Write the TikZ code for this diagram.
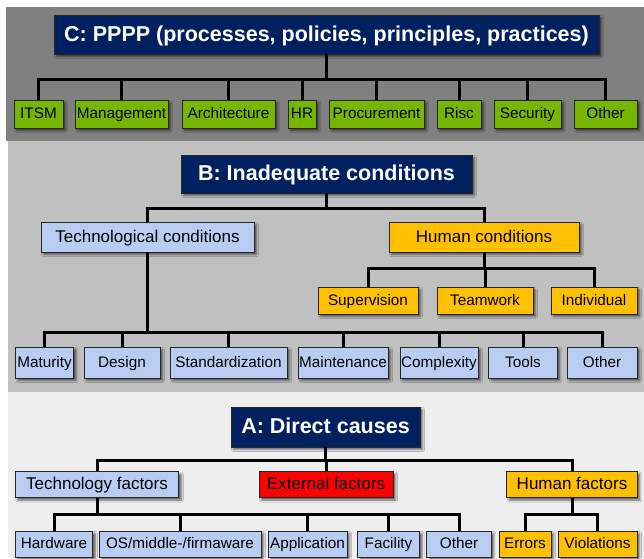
\documentclass[tikz,border=0pt]{standalone}
\usepackage{fontspec}
\setmainfont{Liberation Sans}
\usetikzlibrary{shadows.blur}

\definecolor{navy}{RGB}{0,32,96}
\definecolor{leaf}{RGB}{119,182,0}
\definecolor{sky}{RGB}{185,205,243}
\definecolor{gold}{RGB}{255,192,0}
\definecolor{alarm}{RGB}{255,0,0}
\definecolor{bandC}{RGB}{128,128,128}
\definecolor{bandB}{RGB}{192,192,192}
\definecolor{bandA}{RGB}{239,239,239}

\tikzset{
  box/.style={draw=black!85, line width=0.8pt, inner sep=0pt, align=center,
    blur shadow={shadow xshift=2.5pt, shadow yshift=-2.5pt,
                 shadow blur radius=2pt, shadow opacity=60}},
  headbox/.style={box, fill=navy, text=white,
    font=\fontsize{21.5}{24}\selectfont\bfseries,
    text height=15pt, text depth=2pt},
  midbox/.style={box, font=\fontsize{17}{20}\selectfont,
    text height=11.9pt, text depth=1.7pt},
  leafbox/.style={box, font=\fontsize{15.3}{18}\selectfont,
    text height=10.7pt, text depth=1.5pt},
  conn/.style={line width=3pt, black, line join=miter},
  bw/.style={minimum width=#1},
  bh/.style={minimum height=#1},
}

\begin{document}
\begin{tikzpicture}[x=1pt, y=-1pt]
\useasboundingbox (0,0) rectangle (644,558);

% background bands
\fill[white] (0,0) rectangle (644,558);
\fill[bandC] (6,7) rectangle (644,141);
\fill[bandB] (8,141) rectangle (644,392);
\fill[bandA] (8,392) rectangle (644,558);

% ---------- C: PPPP ----------
\node[headbox, bw=545pt, bh=39pt] (cT) at (326.5,34.5)
  {C: PPPP (processes, policies, principles, practices)};
\coordinate (cbar) at (0,79);
\begin{scope}[every node/.style={leafbox, fill=leaf, bh=28pt}]
  \node[bw=49pt] (itsm) at (38.5,114) {ITSM};
  \node[bw=93pt] (mgmt) at (121.5,114) {Management};
  \node[bw=93pt] (arch) at (228.5,114) {Architecture};
  \node[bw=28pt] (hr)   at (302,114) {HR};
  \node[bw=95pt] (proc) at (376.5,114) {Procurement};
  \node[bw=44pt] (risc) at (459,114) {Risc};
  \node[bw=67pt] (sec)  at (527.5,114) {Security};
  \node[bw=63pt] (othC) at (605.5,114) {Other};
\end{scope}
\foreach \n in {itsm,mgmt,arch,hr,proc,risc,sec,othC}
  \draw[conn] (cT.south) -- (cT.south |- cbar) -| (\n.north);

% ---------- B: Inadequate conditions ----------
\node[headbox, bw=291pt, bh=38pt] (bT) at (326.5,174) {B: Inadequate conditions};
\coordinate (bbar) at (0,208);
\node[midbox, fill=sky, bw=213pt, bh=30pt] (tech) at (147.5,237) {Technological conditions};
\node[midbox, fill=gold, bw=190pt, bh=30pt] (hum) at (484,237) {Human conditions};
\foreach \n in {tech,hum}
  \draw[conn] (bT.south) -- (bT.south |- bbar) -| (\n.north);

\coordinate (hbar) at (0,268);
\begin{scope}[every node/.style={leafbox, fill=gold, bh=27pt}]
  \node[bw=100pt] (sup)   at (368,300.5) {Supervision};
  \node[bw=96pt]  (team)  at (485,300.5) {Teamwork};
  \node[bw=86pt]  (indiv) at (594,300.5) {Individual};
\end{scope}
\foreach \n in {sup,team,indiv}
  \draw[conn] (hum.south) -- (hum.south |- hbar) -| (\n.north);

\coordinate (tbar) at (0,332);
\begin{scope}[every node/.style={leafbox, fill=sky, bh=31pt}]
  \node[bw=58pt]   (mat)   at (44.5,362.5) {Maturity};
  \node[bw=76pt]   (des)   at (122,362.5) {Design};
  \node[bw=117pt]  (std)   at (228.5,362.5) {Standardization};
  \node[bw=90pt]   (mnt)   at (343,362.5) {Maintenance};
  \node[bw=78pt]   (cpx)   at (439,362.5) {Complexity};
  \node[bw=68.5pt] (tools) at (523,362.5) {Tools};
  \node[bw=70pt]   (othB)  at (602,362.5) {Other};
\end{scope}
\foreach \n in {mat,des,std,mnt,cpx,tools,othB}
  \draw[conn] (tech.south) -- (tech.south |- tbar) -| (\n.north);

% ---------- A: Direct causes ----------
\node[headbox, bw=189pt, bh=40pt] (aT) at (325.5,427) {A: Direct causes};
\coordinate (abar) at (0,460);
\node[midbox, fill=sky,   bw=163.5pt, bh=26pt] (tf) at (97,484.5)  {Technology factors};
\node[midbox, fill=alarm, bw=134pt,   bh=26pt] (ef) at (326,484.5) {External factors};
\node[midbox, fill=gold,  bw=130.5pt, bh=26pt] (hf) at (572,484.5) {Human factors};
\foreach \n in {tf,ef,hf}
  \draw[conn] (aT.south) -- (aT.south |- abar) -| (\n.north);

\coordinate (fbar) at (0,514);
\begin{scope}[every node/.style={leafbox, fill=sky, bh=26pt}]
  \node[bw=77.5pt] (hw)   at (54,544)    {Hardware};
  \node[bw=162pt]  (os)   at (180,544)   {OS/middle-/firmaware};
  \node[bw=79pt]   (app)  at (307.5,544) {Application};
  \node[bw=62pt]   (fac)  at (388.5,544) {Facility};
  \node[bw=64.5pt] (othA) at (459,544)   {Other};
\end{scope}
\begin{scope}[every node/.style={leafbox, fill=gold, bh=26pt}]
  \node[bw=52pt] (err) at (525,544)   {Errors};
  \node[bw=79pt] (vio) at (597.5,544) {Violations};
\end{scope}
\foreach \n in {hw,os,app,fac,othA}
  \draw[conn] (tf.south) -- (tf.south |- fbar) -| (\n.north);
\foreach \n in {err,vio}
  \draw[conn] (hf.south) -- (hf.south |- fbar) -| (\n.north);

\end{tikzpicture}
\end{document}
